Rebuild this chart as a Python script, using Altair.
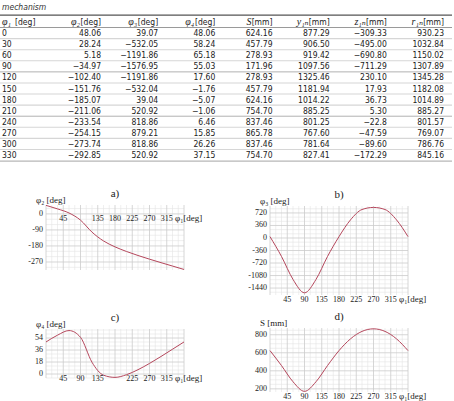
import math
import altair as alt
import pandas as pd

# ---------------- table values, as printed ----------------
phi1 = [0, 30, 60, 90, 120, 150, 180, 210, 240, 270, 300, 330]
phi2 = ["48.06", "28.24", "5.18", "−34.97", "−102.40", "−151.76", "−185.07",
        "−211.06", "−233.54", "−254.15", "−273.74", "−292.85"]
phi3 = ["39.07", "−532.05", "−1191.86", "−1576.95", "−1191.86", "−532.04",
        "39.04", "520.92", "818.86", "879.21", "818.86", "520.92"]
phi4 = ["48.06", "58.24", "65.18", "55.03", "17.60", "−1.76", "−5.07",
        "−1.06", "6.46", "15.85", "26.26", "37.15"]
S = ["624.16", "457.79", "278.93", "171.96", "278.93", "457.79", "624.16",
     "754.70", "837.46", "865.78", "837.46", "754.70"]
y1N = ["877.29", "906.50", "919.42", "1097.56", "1325.46", "1181.94",
       "1014.22", "885.25", "801.25", "767.60", "781.64", "827.41"]
z1N = ["−309.33", "−495.00", "−690.80", "−711.29", "230.10", "17.93",
       "36.73", "5.30", "−22.8", "−47.59", "−89.60", "−172.29"]
r1N = ["930.23", "1032.84", "1150.02", "1307.89", "1345.28", "1182.08",
       "1014.89", "885.27", "801.57", "769.07", "786.76", "845.16"]

header_sym = ["φ₁", "φ₂", "φ₃", "φ₄", "S", "y₁ₙ", "z₁ₙ", "r₁ₙ"]
header_unit = ["[deg]", "[deg]", "[deg]", "[deg]", "[mm]", "[mm]", "[mm]", "[mm]"]

# curve values at the end of the revolution (phi1 = 360)
phi1_end = 360
phi2_end, phi3_end, phi4_end, S_end = -311.94, 39.07, 48.06, 624.16

# tick labels of the four plots
a_xticks = [45, 135, 180, 225, 270, 315]
a_yticks = [0, -90, -180, -270]
b_xticks = [45, 90, 135, 180, 225, 270, 315]
b_yticks = [720, 360, 0, -360, -720, -1080, -1440]
c_xticks = [45, 90, 135, 225, 270, 315]
c_yticks = [54, 36, 18, 0]
d_xticks = [45, 90, 135, 180, 225, 270, 315]
d_yticks = [800, 600, 400, 200]


def num(s):
    return float(s.replace("−", "-"))


SERIF = "'Liberation Serif', 'DejaVu Serif', serif"
SANS = "'Liberation Sans Narrow', 'DejaVu Sans Condensed', 'Arial Narrow', 'Liberation Sans', sans-serif"
LINE_COLOR = "#b5475c"

layers = []

# ---------------- table ----------------
COL = alt.Scale(domain=[1, 7], range=[101, 444], nice=False, zero=False)
ROW = alt.Scale(domain=[-1, 11], range=[22, 155], nice=False, zero=False)

rules = pd.DataFrame(
    [dict(row=-1.62, kind="top"), dict(row=-0.5, kind="head")]
    + [dict(row=i + 0.5, kind="row") for i in range(11) if i not in (3, 7)]
    + [dict(row=3.5, kind="group"), dict(row=7.5, kind="group"),
       dict(row=11.55, kind="bottom")]
)
kinds = ["top", "head", "row", "group", "bottom"]
layers.append(
    alt.Chart(rules).mark_rule().encode(
        x=alt.value(0), x2=alt.value(452),
        y=alt.Y("row:Q", scale=ROW, axis=None),
        color=alt.Color("kind:N", legend=None, scale=alt.Scale(
            domain=kinds, range=["#555555", "#9a9a9a", "#d6d6d6", "#b0b0b0", "#9a9a9a"])),
        strokeWidth=alt.StrokeWidth("kind:N", legend=None, scale=alt.Scale(
            domain=kinds, range=[1.2, 0.9, 0.6, 1.8, 1.8])),
    )
)

layers.append(
    alt.Chart(pd.DataFrame({"t": ["mechanism"]})).mark_text(
        align="left", baseline="middle", font=SANS, fontSize=8.5,
        fontStyle="italic", color="#333333"
    ).encode(x=alt.value(2), y=alt.value(7), text="t:N")
)

cols = [phi2, phi3, phi4, S, y1N, z1N, r1N]
cells = pd.DataFrame(
    [dict(col=c + 1, row=r, t=v) for c, col in enumerate(cols) for r, v in enumerate(col)]
)
layers.append(
    alt.Chart(cells).mark_text(
        align="right", baseline="middle", font=SANS, fontSize=8.5, color="#222222"
    ).encode(
        x=alt.X("col:Q", scale=COL, axis=None),
        y=alt.Y("row:Q", scale=ROW, axis=None),
        text="t:N",
    )
)
first = pd.DataFrame({"row": list(range(12)), "t": [str(v) for v in phi1]})
layers.append(
    alt.Chart(first).mark_text(
        align="left", baseline="middle", font=SANS, fontSize=8.5, color="#222222"
    ).encode(x=alt.value(2), y=alt.Y("row:Q", scale=ROW, axis=None), text="t:N")
)

head = pd.DataFrame({"col": list(range(8)), "row": [-1] * 8,
                     "sym": header_sym, "unit": header_unit})
head_rest = head[head.col > 0]
head_first = head[head.col == 0]
layers.append(
    alt.Chart(head_rest).mark_text(
        align="right", baseline="middle", font=SANS, fontSize=8.5, color="#222222"
    ).encode(x=alt.X("col:Q", scale=COL, axis=None),
             y=alt.Y("row:Q", scale=ROW, axis=None), text="unit:N")
)
layers.append(
    alt.Chart(head_rest).mark_text(
        align="right", baseline="middle", font=SERIF, fontSize=10,
        fontStyle="italic", color="#222222", dx=-21
    ).encode(x=alt.X("col:Q", scale=COL, axis=None),
             y=alt.Y("row:Q", scale=ROW, axis=None), text="sym:N")
)
layers.append(
    alt.Chart(head_first).mark_text(
        align="left", baseline="middle", font=SERIF, fontSize=10,
        fontStyle="italic", color="#222222"
    ).encode(x=alt.value(2), y=alt.Y("row:Q", scale=ROW, axis=None), text="sym:N")
)
layers.append(
    alt.Chart(head_first).mark_text(
        align="left", baseline="middle", font=SANS, fontSize=8.5, color="#222222"
    ).encode(x=alt.value(15), y=alt.Y("row:Q", scale=ROW, axis=None), text="unit:N")
)

# ---------------- plots ----------------
PANELS = [
    dict(tag="a)", ylab="φ₂ [deg]", vals=[num(v) for v in phi2] + [phi2_end],
         xr=[46, 184], yd=[-315, 50], yr=[270, 205],
         xt=a_xticks, yt=a_yticks, ymaj=90, ymin=30, xaxis_at=0),
    dict(tag="b)", ylab="φ₃ [deg]", vals=[num(v) for v in phi3] + [phi3_end],
         xr=[270, 408], yd=[-1640, 920], yr=[295, 206],
         xt=b_xticks, yt=b_yticks, ymaj=360, ymin=120, xaxis_at=-1640),
    dict(tag="c)", ylab="φ₄ [deg]", vals=[num(v) for v in phi4] + [phi4_end],
         xr=[46, 184], yd=[-6, 67.5], yr=[378, 329],
         xt=c_xticks, yt=c_yticks, ymaj=18, ymin=6, xaxis_at=0),
    dict(tag="d)", ylab="S [mm]", vals=[num(v) for v in S] + [S_end],
         xr=[270, 408], yd=[165, 875], yr=[392, 328],
         xt=d_xticks, yt=d_yticks, ymaj=200, ymin=50, xaxis_at=165),
]


def panel_layers(p):
    def X(field):
        return alt.X(field, type="quantitative", axis=None,
                     scale=alt.Scale(domain=[0, 360], range=p["xr"], nice=False, zero=False))

    def Y(field):
        return alt.Y(field, type="quantitative", axis=None,
                     scale=alt.Scale(domain=p["yd"], range=p["yr"], nice=False, zero=False))

    lo, hi = p["yd"]
    segs = []
    for v in range(0, 361, 15):
        segs.append(dict(x=v, x2=v, y=lo, y2=hi, kind="major" if v % 45 == 0 else "minor"))
    v = math.ceil(lo / p["ymin"]) * p["ymin"]
    while v <= hi:
        major = abs(v / p["ymaj"] - round(v / p["ymaj"])) < 1e-9
        segs.append(dict(x=0, x2=360, y=v, y2=v, kind="major" if major else "minor"))
        v += p["ymin"]
    segs.sort(key=lambda s: s["kind"] == "major")
    grid = pd.DataFrame(segs)

    out = []
    out.append(
        alt.Chart(grid).mark_rule().encode(
            x=X("x"), x2="x2", y=Y("y"), y2="y2",
            color=alt.Color("kind:N", legend=None, scale=alt.Scale(
                domain=["minor", "major"], range=["#e4e4e4", "#cbcbcb"])),
            strokeWidth=alt.StrokeWidth("kind:N", legend=None, scale=alt.Scale(
                domain=["minor", "major"], range=[0.6, 0.8])),
        )
    )
    curve = pd.DataFrame({"phi1": phi1 + [phi1_end], "v": p["vals"]})
    out.append(
        alt.Chart(curve).mark_line(interpolate="monotone", color=LINE_COLOR,
                                   strokeWidth=1).encode(x=X("phi1"), y=Y("v"))
    )
    xt = pd.DataFrame({"x": p["xt"], "y": [p["xaxis_at"]] * len(p["xt"]),
                       "t": [str(t) for t in p["xt"]]})
    out.append(
        alt.Chart(xt).mark_text(align="center", baseline="top", font=SERIF,
                                fontSize=8, color="#222222", dy=1).encode(
            x=X("x"), y=Y("y"), text="t:N")
    )
    xtitle = pd.DataFrame({"x": [360], "y": [p["xaxis_at"]], "t": ["φ₁[deg]"]})
    out.append(
        alt.Chart(xtitle).mark_text(align="left", baseline="top", font=SERIF,
                                    fontSize=9, color="#222222", dy=0, dx=-9).encode(
            x=X("x"), y=Y("y"), text="t:N")
    )
    yt = pd.DataFrame({"x": [0] * len(p["yt"]), "y": p["yt"],
                       "t": [str(t) for t in p["yt"]]})
    out.append(
        alt.Chart(yt).mark_text(align="right", baseline="middle", font=SERIF,
                                fontSize=8, color="#222222", dx=-3).encode(
            x=X("x"), y=Y("y"), text="t:N")
    )
    ytitle = pd.DataFrame({"x": [0], "y": [hi], "t": [p["ylab"]]})
    out.append(
        alt.Chart(ytitle).mark_text(align="left", baseline="alphabetic", font=SERIF,
                                    fontSize=9, color="#222222", dx=-10, dy=-2).encode(
            x=X("x"), y=Y("y"), text="t:N")
    )
    title = pd.DataFrame({"x": [180], "y": [hi], "t": [p["tag"]]})
    out.append(
        alt.Chart(title).mark_text(align="center", baseline="middle", font=SERIF,
                                   fontSize=11, color="#222222", dy=-11).encode(
            x=X("x"), y=Y("y"), text="t:N")
    )
    return out


for p in PANELS:
    layers.extend(panel_layers(p))

chart = (
    alt.layer(*layers)
    .resolve_scale(x="independent", y="independent", color="independent",
                   strokeWidth="independent")
    .properties(width=454, height=401, padding=0,
                autosize=alt.AutoSizeParams(type="none"))
    .configure_view(stroke=None)
)

chart.save("out.html", embed_options={"renderer": "svg", "actions": False})
